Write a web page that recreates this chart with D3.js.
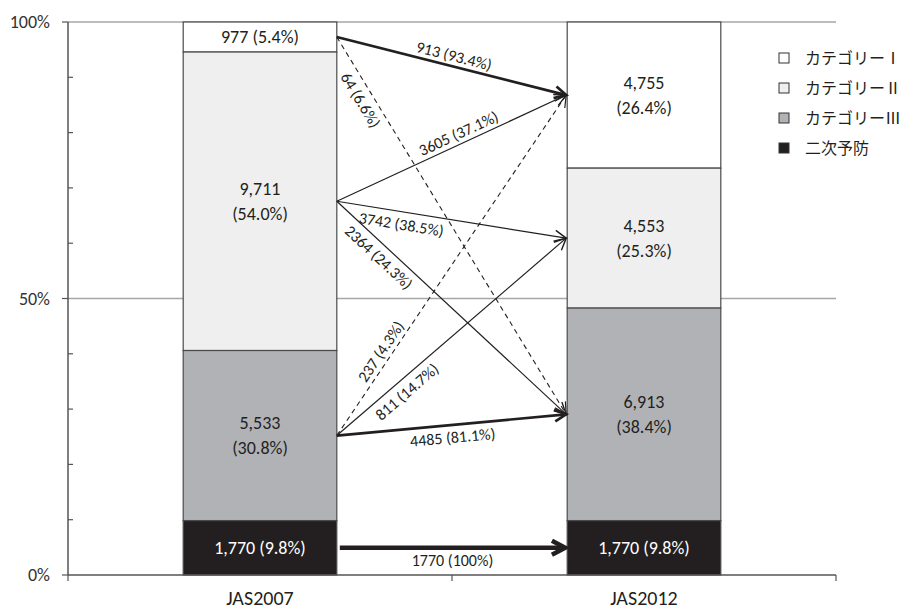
<!DOCTYPE html>
<html>
<head>
<meta charset="utf-8">
<script src="https://cdn.jsdelivr.net/npm/d3@7"></script>
<style>
  html, body { margin: 0; padding: 0; background: #fff; }
  svg { display: block; }
</style>
</head>
<body>
<svg id="chart" width="906" height="610"></svg>
<script>
// ---------- data ----------
const categories = ["JAS2007", "JAS2012"];
const groups = ["カテゴリーⅠ", "カテゴリーⅡ", "カテゴリーⅢ", "二次予防"];
const values2007 = [977, 9711, 5533, 1770];
const values2012 = [4755, 4553, 6913, 1770];
const flowFrom  = [0, 0, 1, 1, 1, 2, 2, 2, 3];
const flowTo    = [0, 2, 0, 1, 2, 0, 1, 2, 3];
const flowCount = [913, 64, 3605, 3742, 2364, 237, 811, 4485, 1770];
const yTickValues = [0, 0.5, 1];
const yTickLabels = ["0%", "50%", "100%"];

// ---------- styling / layout (not data) ----------
const groupFill = ["#ffffff", "#efefef", "#b1b2b6", "#231f20"];
const groupText = ["#231f20", "#231f20", "#231f20", "#ffffff"];
const flowStyle = ["thick", "dashed", "thin", "thin", "thin", "dashed", "thin", "thick", "heavy"];
const labelT    = [0.50, 0.15, 0.55, 0.29, 0.22, 0.23, 0.27, 0.50, 0.50];
const labelSide = ["above", "below", "above", "below", "below", "above", "below", "below", "below"];
const ink = "#231f20";
const latin = "Carlito, Lato, 'Open Sans', sans-serif";
const cjk = "'Noto Sans CJK JP', 'Noto Sans', sans-serif";

const svg = d3.select("#chart");
const margin = { left: 68 };

const x = d3.scaleBand().domain(categories).range([margin.left, 836]).paddingInner(0).paddingOuter(0);
const y = d3.scaleLinear().domain([0, 1]).range([575, 22]);
const barW = x.bandwidth() * 0.4;

const allValues = [values2007, values2012];

// stacked segments: bottom = last group
function segments(vals) {
  const total = d3.sum(vals);
  let acc = 0;
  const segs = [];
  for (let i = vals.length - 1; i >= 0; i--) {
    const y0 = acc / total;
    acc += vals[i];
    const y1 = acc / total;
    segs[i] = { g: i, v: vals[i], pct: vals[i] / total * 100, y0, y1, mid: (y0 + y1) / 2 };
  }
  return segs;
}
const segs = allValues.map(segments);

// ---------- gridlines ----------
svg.append("g").selectAll("line").data([0.5, 1]).join("line")
  .attr("x1", margin.left).attr("x2", 836)
  .attr("y1", d => y(d)).attr("y2", d => y(d))
  .attr("stroke", "#a6a6a6").attr("stroke-width", 1.5);

// ---------- y axis ----------
const yAxisG = svg.append("g");
yAxisG.append("line")
  .attr("x1", margin.left).attr("x2", margin.left)
  .attr("y1", y(0)).attr("y2", y(1))
  .attr("stroke", "#555").attr("stroke-width", 1.5);
yAxisG.selectAll("line.minor").data(d3.range(1, 10).map(d => d / 10).filter(d => Math.abs(d - 0.5) > 1e-9))
  .join("line").attr("class", "minor")
  .attr("x1", margin.left).attr("x2", margin.left + 5)
  .attr("y1", d => y(d)).attr("y2", d => y(d))
  .attr("stroke", "#555").attr("stroke-width", 1.2);
yAxisG.selectAll("line.major").data(yTickValues).join("line").attr("class", "major")
  .attr("x1", margin.left - 6).attr("x2", margin.left)
  .attr("y1", d => y(d)).attr("y2", d => y(d))
  .attr("stroke", "#555").attr("stroke-width", 1.2);
yAxisG.selectAll("text").data(yTickValues).join("text")
  .attr("x", margin.left - 18).attr("y", d => y(d))
  .attr("dy", "0.35em").attr("text-anchor", "end")
  .attr("font-family", latin).attr("font-size", 18).attr("fill", "#333")
  .text((d, i) => yTickLabels[i]);

// ---------- bars ----------
const barG = svg.append("g");
categories.forEach((c, ci) => {
  const bx = x(c) + x.bandwidth() / 2 - barW / 2;
  const g = barG.append("g");
  g.selectAll("rect").data(segs[ci]).join("rect")
    .attr("x", bx).attr("width", barW)
    .attr("y", d => y(d.y1)).attr("height", d => y(d.y0) - y(d.y1))
    .attr("fill", d => groupFill[d.g])
    .attr("stroke", "#4a4a4a").attr("stroke-width", 1.2);
  segs[ci].forEach(d => {
    const h = y(d.y0) - y(d.y1);
    const t = g.append("text")
      .attr("x", bx + barW / 2).attr("y", y(d.mid))
      .attr("text-anchor", "middle")
      .attr("font-family", latin).attr("font-size", 18)
      .attr("fill", groupText[d.g]);
    const num = d3.format(",")(d.v);
    const pct = "(" + d3.format(".1f")(d.pct) + "%)";
    if (h < 60) {
      t.attr("dy", "0.35em").text(num + " " + pct);
    } else {
      t.append("tspan").attr("x", bx + barW / 2).attr("dy", "-0.35em").text(num);
      t.append("tspan").attr("x", bx + barW / 2).attr("dy", "1.4em").text(pct);
    }
  });
});

// ---------- x axis ----------
const xAxisG = svg.append("g");
xAxisG.append("line")
  .attr("x1", margin.left).attr("x2", 836)
  .attr("y1", y(0)).attr("y2", y(0))
  .attr("stroke", "#555").attr("stroke-width", 1.5);
const bandEdges = [x(categories[0]), x(categories[1]), x(categories[1]) + x.bandwidth()];
xAxisG.selectAll("line.tick").data(bandEdges).join("line").attr("class", "tick")
  .attr("x1", d => d).attr("x2", d => d)
  .attr("y1", y(0)).attr("y2", y(0) + 6)
  .attr("stroke", "#555").attr("stroke-width", 1.2);
xAxisG.selectAll("text").data(categories).join("text")
  .attr("x", d => x(d) + x.bandwidth() / 2).attr("y", 598)
  .attr("dy", "0.35em").attr("text-anchor", "middle")
  .attr("font-family", latin).attr("font-size", 20).attr("fill", "#231f20")
  .text(d => d);

// ---------- flows ----------
const flowG = svg.append("g");
const xStart = x(categories[0]) + x.bandwidth() / 2 + barW / 2;
const xEnd = x(categories[1]) + x.bandwidth() / 2 - barW / 2;
const widthFor = { thin: 1.2, dashed: 1.1, thick: 2.7, heavy: 4.5 };
flowCount.forEach((cnt, i) => {
  const sFrom = segs[0][flowFrom[i]];
  const sTo = segs[1][flowTo[i]];
  const style = flowStyle[i];
  const heavy = style === "heavy";
  const x1 = xStart + (heavy ? 3 : 0), y1 = y(sFrom.mid);
  const x2 = xEnd - (heavy ? 2 : 1), y2 = y(sTo.mid);
  const sw = widthFor[style];
  const ang = Math.atan2(y2 - y1, x2 - x1);
  const headLen = heavy ? 15 : 13;
  const spread = Math.PI / 6.5;
  flowG.append("line")
    .attr("x1", x1).attr("y1", y1).attr("x2", x2 - Math.cos(ang) * (heavy ? 3 : 0)).attr("y2", y2 - Math.sin(ang) * (heavy ? 3 : 0))
    .attr("stroke", ink).attr("stroke-width", sw)
    .attr("stroke-dasharray", style === "dashed" ? "5,4" : null);
  const pa = [x2 - headLen * Math.cos(ang - spread), y2 - headLen * Math.sin(ang - spread)];
  const pb = [x2 - headLen * Math.cos(ang + spread), y2 - headLen * Math.sin(ang + spread)];
  flowG.append("path")
    .attr("d", `M${pa[0]},${pa[1]}L${x2},${y2}L${pb[0]},${pb[1]}`)
    .attr("fill", "none").attr("stroke", ink)
    .attr("stroke-width", style === "dashed" ? 1.2 : Math.max(sw, 1.4))
    .attr("stroke-linejoin", "miter").attr("stroke-linecap", "butt");

  const t = labelT[i];
  const lx = x1 + (x2 - x1) * t, ly = y1 + (y2 - y1) * t;
  const deg = ang * 180 / Math.PI;
  const pctVal = cnt / (allValues[0][flowFrom[i]]) * 100;
  const pctStr = Math.abs(pctVal - 100) < 1e-9 ? "100" : d3.format(".1f")(pctVal);
  flowG.append("text")
    .attr("transform", `translate(${lx},${ly}) rotate(${deg})`)
    .attr("x", 0).attr("y", labelSide[i] === "above" ? -5 : 18)
    .attr("text-anchor", "middle")
    .attr("font-family", latin).attr("font-size", 16).attr("fill", ink)
    .text(`${cnt} (${pctStr}%)`);
});

// ---------- legend ----------
const legend = svg.append("g").attr("transform", "translate(779,58)");
const legItems = legend.selectAll("g").data(groups).join("g")
  .attr("transform", (d, i) => `translate(0,${i * 30})`);
legItems.append("rect")
  .attr("x", 0).attr("y", -5).attr("width", 10).attr("height", 10)
  .attr("fill", (d, i) => groupFill[i]).attr("stroke", "#333").attr("stroke-width", 1);
legItems.append("text")
  .attr("x", 26).attr("y", 0).attr("dy", "0.35em")
  .attr("font-family", cjk).attr("font-size", 16).attr("fill", "#231f20")
  .text(d => d);
</script>
</body>
</html>
